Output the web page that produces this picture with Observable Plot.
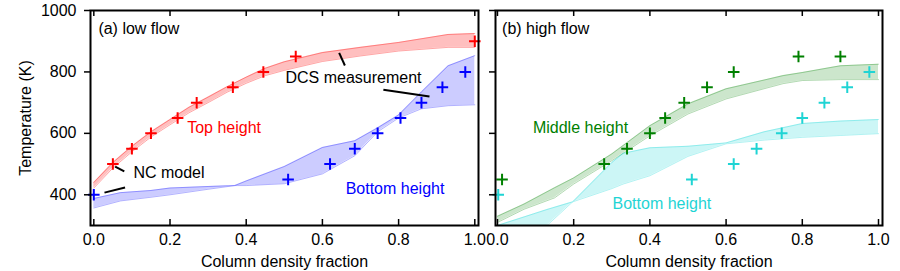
<!DOCTYPE html>
<html>
<head>
<meta charset="utf-8">
<script src="https://cdn.jsdelivr.net/npm/d3@7"></script>
<script src="https://cdn.jsdelivr.net/npm/@observablehq/plot@0.6"></script>
<style>
  body { margin: 0; background: #fff; }
  #chart { display: flex; width: 900px; height: 271px; }
  #chart svg { display: block; }
</style>
</head>
<body>
<div id="chart"></div>
<script>
// ---------- data ----------
const xTicks = [0, 0.2, 0.4, 0.6, 0.8, 1.0];
const yTicks = [400, 600, 800, 1000];

// (a) low flow — DCS measurement points
const topX = [0.05, 0.10, 0.15, 0.22, 0.27, 0.365, 0.445, 0.53, 1.0];
const topT = [500, 550, 600, 650, 700, 750, 800, 850, 900];
const botAX = [0.0, 0.51, 0.62, 0.685, 0.745, 0.805, 0.86, 0.915, 0.975];
const botAT = [400, 450, 500, 550, 600, 650, 700, 750, 800];

// (a) NC model bands
const redBandX = [0, 0.05, 0.1, 0.15, 0.2, 0.25, 0.3, 0.35, 0.4, 0.45, 0.5, 0.6, 0.7, 0.8, 0.93, 1.0];
const redUpper = [440, 505, 558, 605, 645, 685, 718, 752, 783, 812, 833, 863, 880, 896, 922, 925];
const redLower = [422, 487, 540, 588, 628, 667, 700, 734, 763, 788, 805, 834, 852, 868, 880, 880];
const blueBandX = [0, 0.07, 0.15, 0.2, 0.3, 0.37, 0.4, 0.5, 0.6, 0.685, 0.745, 0.8, 0.86, 0.93, 1.0];
const blueP = [388, 407, 414, 422, 427, 430, 430, 436, 468, 527, 605, 650, 680, 690, 693];
const blueQ = [357, 380, 392, 400, 418, 430, 445, 492, 554, 576, 618, 660, 735, 820, 853];

// (b) high flow — DCS measurement points
const midX = [0.012, 0.28, 0.34, 0.40, 0.44, 0.49, 0.55, 0.62, 0.79, 0.90];
const midT = [450, 500, 550, 600, 650, 700, 750, 800, 850, 850];
const botBX = [0.002, 0.51, 0.62, 0.68, 0.746, 0.80, 0.858, 0.918, 0.976];
const botBT = [400, 450, 500, 550, 600, 650, 700, 750, 800];

// (b) NC model bands
const greenBandX = [0, 0.07, 0.15, 0.2, 0.3, 0.4, 0.5, 0.6, 0.75, 0.8, 0.9, 1.0];
const greenUpper = [330, 370, 423, 455, 533, 625, 696, 745, 788, 798, 820, 825];
const greenLower = [310, 353, 390, 435, 511, 592, 663, 712, 762, 772, 775, 775];
const cyanBandX = [0, 0.1, 0.13, 0.2, 0.3, 0.33, 0.4, 0.5, 0.6, 0.7, 0.8, 0.9, 1.0];
const cyanA = [230, 275, 300, 380, 505, 535, 553, 558, 569, 605, 632, 640, 645];
const cyanB = [300, 340, 352, 378, 420, 435, 462, 525, 566, 578, 587, 593, 599];

// annotations (data coordinates)
const notesA = ["(a) low flow", "Top height", "NC model", "DCS measurement", "Bottom height"];
const notesAX = [0.012, 0.245, 0.104, 0.503, 0.661];
const notesAY = [940, 619, 471, 780, 420];
const notesAColor = ["black", "#ff0000", "black", "black", "#0000ff"];
const leadersA_x1 = [0.056, 0.028, 0.644, 0.760];
const leadersA_y1 = [492, 407, 862, 742];
const leadersA_x2 = [0.080, 0.082, 0.659, 0.881];
const leadersA_y2 = [476, 424, 821, 720];

const notesB = ["(b) high flow", "Middle height", "Bottom height"];
const notesBX = [0.012, 0.093, 0.302];
const notesBY = [939, 619, 370];
const notesBColor = ["black", "#008000", "#1fd4d4"];

// ---------- helpers ----------
const FONT = "'Liberation Sans', Arial, Helvetica, sans-serif";
const H = 271, MT = 10, MB = 46, TICK = 6;
const innerH = H - MT - MB;
const zipPts = (xs, ys) => xs.map((x, i) => ({x, y: ys[i]}));
const zipBand = (xs, a, b) => xs.map((x, i) => ({x, a: a[i], b: b[i]}));
const zipNotes = (t, xs, ys, cs) => t.map((s, i) => ({text: s, x: xs[i], y: ys[i], color: cs[i]}));

function bandMarks(rows, color, fillOpacity) {
  return [
    Plot.areaY(rows, {x: "x", y1: "a", y2: "b", fill: color, fillOpacity, clip: true}),
    Plot.line(rows, {x: "x", y: "a", stroke: color, strokeOpacity: fillOpacity + 0.1, strokeWidth: 1, clip: true}),
    Plot.line(rows, {x: "x", y: "b", stroke: color, strokeOpacity: fillOpacity + 0.1, strokeWidth: 1, clip: true})
  ];
}
function pointMarks(rows, color) {
  return Plot.dot(rows, {x: "x", y: "y", symbol: "plus", r: 3.8, stroke: color, strokeWidth: 2});
}
function commonAxes(showYText) {
  const m = [
    // inward x ticks, bottom and top
    Plot.ruleX(xTicks, {x: d => d, insetTop: innerH - TICK, stroke: "black", strokeWidth: 1.5}),
    Plot.ruleX(xTicks, {x: d => d, insetBottom: innerH - TICK, stroke: "black", strokeWidth: 1.5}),
    Plot.frame({stroke: "black", strokeWidth: 2}),
    Plot.axisX(xTicks, {anchor: "bottom", tickSize: 0, tickPadding: 8, tickFormat: d3.format(".1f"),
      label: "Column density fraction", labelAnchor: "center", labelArrow: false, labelOffset: 41})
  ];
  if (showYText) {
    m.push(Plot.axisY(yTicks, {anchor: "left", tickSize: TICK, tickPadding: 8, strokeWidth: 1.5,
      tickFormat: d => String(d),
      label: "Temperature (K)", labelAnchor: "center", labelArrow: false, labelOffset: 71}));
  } else {
    m.push(Plot.axisY(yTicks, {anchor: "left", tickSize: TICK, strokeWidth: 1.5, fill: "none", label: null}));
  }
  return m;
}

const style = {fontFamily: FONT, fontSize: "16px", color: "black", background: "white", overflow: "visible"};

// ---------- panel (a) ----------
const left = Plot.plot({
  width: 486, height: H,
  marginTop: MT, marginBottom: MB, marginLeft: 90, marginRight: 8,
  style,
  x: {domain: [-0.0087, 1.0097]},
  y: {domain: [300, 1000]},
  marks: [
    ...bandMarks(zipBand(redBandX, redUpper, redLower), "#ff0000", 0.25),
    ...bandMarks(zipBand(blueBandX, blueP, blueQ), "#0000ff", 0.2),
    Plot.link(leadersA_x1.map((x1, i) => ({x1, y1: leadersA_y1[i], x2: leadersA_x2[i], y2: leadersA_y2[i]})),
      {x1: "x1", y1: "y1", x2: "x2", y2: "y2", stroke: "black", strokeWidth: 2}),
    pointMarks(zipPts(topX, topT), "#ff0000"),
    pointMarks(zipPts(botAX, botAT), "#0000ff"),
    Plot.text(zipNotes(notesA, notesAX, notesAY, notesAColor),
      {x: "x", y: "y", text: "text", fill: "color", textAnchor: "start", fontSize: 16}),
    ...commonAxes(true)
  ]
});

// ---------- panel (b) ----------
const right = Plot.plot({
  width: 414, height: H,
  marginTop: MT, marginBottom: MB, marginLeft: 9, marginRight: 18,
  style,
  x: {domain: [-0.0052, 1.0105]},
  y: {domain: [300, 1000]},
  marks: [
    ...bandMarks(zipBand(greenBandX, greenUpper, greenLower), "#008000", 0.2),
    ...bandMarks(zipBand(cyanBandX, cyanA, cyanB), "#00d4d4", 0.2),
    pointMarks(zipPts(midX, midT), "#008000"),
    pointMarks(zipPts(botBX, botBT), "#1fd4d4"),
    Plot.text(zipNotes(notesB, notesBX, notesBY, notesBColor),
      {x: "x", y: "y", text: "text", fill: "color", textAnchor: "start", fontSize: 16}),
    ...commonAxes(false)
  ]
});

document.getElementById("chart").append(left, right);
</script>
</body>
</html>
